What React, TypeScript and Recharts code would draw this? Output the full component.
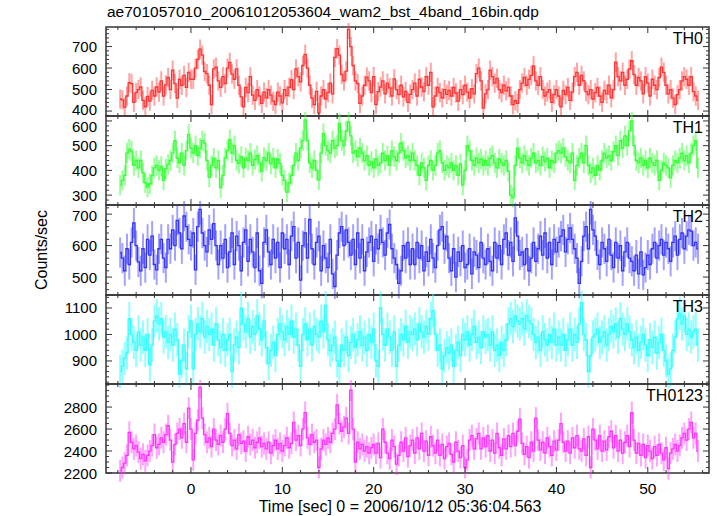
import { LineChart, Line, XAxis, YAxis, ErrorBar, ReferenceArea } from 'recharts';

// time bins: 0.25 s, first bin centre at -7.75 s
const T_START = -7.75;
const T_STEP = 0.25;

const TH0 = [
  456, 452, 418, 470, 532, 528, 440, 486, 500, 512, 450, 420, 468, 446, 496, 470,
  512, 488, 540, 470, 522, 556, 500, 590, 528, 460, 548, 520, 566, 510, 580, 548,
  548, 600, 640, 688, 660, 584, 574, 520, 430, 596, 604, 540, 510, 560, 528, 600,
  626, 572, 548, 596, 520, 466, 420, 510, 486, 560, 474, 450, 500, 470, 436, 488,
  462, 500, 474, 446, 430, 488, 470, 438, 500, 472, 510, 546, 500, 596, 560, 536,
  612, 664, 600, 520, 460, 430, 492, 392, 470, 500, 456, 486, 530, 480, 650, 690,
  660, 570, 540, 586, 780, 700, 612, 540, 528, 436, 470, 520, 558, 540, 486, 560,
  430, 490, 512, 540, 480, 530, 508, 470, 550, 500, 476, 520, 466, 492, 440, 478,
  500, 530, 470, 548, 512, 490, 560, 520, 580, 420, 470, 510, 486, 462, 500, 478,
  496, 470, 510, 484, 446, 500, 476, 520, 488, 460, 504, 480, 574, 600, 540, 414,
  480, 500, 590, 560, 530, 552, 500, 486, 520, 494, 510, 470, 430, 448, 436, 500,
  530, 556, 520, 548, 566, 610, 540, 520, 560, 500, 470, 488, 500, 440, 476, 500,
  470, 420, 496, 476, 510, 450, 488, 560, 580, 520, 566, 540, 490, 476, 500, 456,
  486, 510, 470, 440, 496, 480, 520, 462, 500, 628, 560, 540, 580, 520, 548, 596,
  634, 570, 520, 556, 540, 480, 560, 530, 470, 548, 520, 500, 556, 604, 580, 520,
  480, 500, 460, 430, 476, 500, 540, 560, 548, 520, 560, 490, 470, 450,
];

const TH1 = [
  340, 360, 380, 470, 486, 478, 420, 440, 410, 440, 390, 350, 332, 346, 380, 410,
  420, 400, 416, 360, 406, 424, 440, 470, 520, 450, 430, 470, 420, 480, 546, 490,
  470, 500, 460, 490, 520, 510, 440, 372, 420, 450, 410, 440, 330, 380, 450, 480,
  524, 470, 500, 440, 428, 456, 410, 450, 440, 470, 420, 444, 460, 430, 396, 452,
  440, 470, 426, 450, 410, 446, 428, 380, 360, 312, 350, 380, 420, 470, 440, 490,
  520, 604, 520, 430, 410, 440, 400, 362, 470, 550, 500, 480, 470, 520, 490, 500,
  590, 520, 500, 560, 596, 540, 470, 480, 456, 490, 470, 440, 460, 420, 436, 410,
  446, 420, 430, 470, 440, 460, 420, 480, 456, 440, 470, 510, 480, 450, 460, 440,
  470, 440, 420, 380, 430, 410, 360, 420, 440, 400, 420, 470, 480, 430, 400, 420,
  410, 430, 400, 420, 380, 426, 340, 400, 500, 480, 440, 420, 450, 430, 446, 420,
  440, 420, 450, 460, 430, 410, 446, 430, 420, 440, 396, 300, 290, 420, 490, 450,
  430, 460, 440, 420, 450, 470, 430, 440, 420, 456, 436, 450, 410, 440, 430, 470,
  480, 470, 490, 456, 440, 430, 470, 360, 420, 450, 470, 430, 500, 420, 390, 410,
  380, 420, 400, 440, 470, 450, 460, 440, 476, 500, 460, 520, 490, 540, 500, 560,
  600, 500, 440, 430, 450, 420, 440, 410, 450, 430, 420, 440, 360, 400, 430, 420,
  410, 370, 420, 440, 430, 450, 470, 440, 460, 430, 470, 500, 520, 410,
];

const TH2 = [
  578, 560, 520, 590, 540, 610, 672, 600, 548, 520, 590, 530, 620, 570, 630, 540,
  523, 590, 620, 560, 530, 620, 590, 650, 600, 680, 640, 590, 694, 660, 620, 600,
  640, 523, 660, 715, 640, 600, 580, 650, 620, 670, 600, 540, 600, 560, 620, 530,
  580, 640, 540, 630, 600, 520, 610, 650, 550, 620, 580, 530, 640, 520, 480, 610,
  650, 580, 540, 620, 560, 610, 530, 640, 590, 620, 540, 630, 660, 560, 610, 490,
  600, 640, 560, 683, 590, 540, 610, 630, 520, 600, 560, 530, 620, 510, 470, 570,
  640, 660, 600, 650, 610, 570, 620, 540, 640, 560, 620, 520, 580, 610, 630, 550,
  620, 590, 650, 610, 570, 640, 667, 590, 560, 540, 480, 520, 600, 560, 610, 540,
  590, 540, 610, 560, 600, 520, 580, 550, 620, 560, 530, 600, 650, 660, 590, 630,
  560, 520, 590, 500, 580, 550, 600, 530, 540, 590, 510, 580, 570, 530, 610, 560,
  540, 590, 550, 520, 610, 560, 600, 540, 620, 640, 570, 610, 550, 688, 630, 570,
  580, 540, 590, 520, 560, 610, 550, 590, 630, 570, 640, 560, 610, 540, 620, 580,
  610, 630, 650, 580, 620, 656, 620, 590, 560, 480, 550, 630, 660, 590, 715, 650,
  630, 570, 540, 610, 590, 550, 620, 570, 530, 610, 560, 600, 520, 580, 610, 560,
  550, 520, 570, 510, 580, 507, 530, 570, 540, 590, 610, 560, 600, 620, 570, 610,
  590, 550, 610, 630, 570, 620, 640, 590, 630, 650, 646, 600, 610, 590,
];

const TH3 = [
  860, 880, 910, 930, 1060, 1000, 970, 940, 1010, 960, 990, 940, 1000, 885, 960, 1050,
  1070, 1040, 1060, 990, 1010, 970, 1000, 960, 1020, 980, 850, 900, 960, 870, 1010, 1050,
  870, 1000, 1040, 1010, 1060, 990, 1030, 1000, 1020, 960, 1040, 980, 950, 1000, 940, 980,
  1000, 860, 960, 990, 950, 1098, 1040, 1010, 1060, 990, 1030, 1000, 1070, 1020, 980, 1050,
  950, 890, 940, 970, 920, 1000, 1040, 1010, 980, 1030, 1000, 1050, 990, 1020, 960, 880,
  1000, 1040, 980, 1020, 960, 1030, 1000, 990, 1050, 1010, 1110, 980, 940, 960, 990, 900,
  880, 960, 940, 990, 920, 970, 1000, 950, 980, 1010, 960, 990, 940, 1000, 970, 1020,
  900, 880, 1100, 1000, 960, 1020, 990, 940, 1010, 880, 960, 1000, 980, 1030, 970, 1010,
  1000, 1020, 980, 1040, 1010, 990, 1030, 1000, 1060, 1090, 1000, 940, 960, 870, 920, 950,
  930, 960, 880, 940, 970, 920, 1000, 980, 1010, 960, 1000, 1030, 970, 990, 950, 1010,
  990, 1000, 960, 1010, 940, 960, 920, 970, 940, 980, 1040, 1060, 1030, 1070, 1050, 1040,
  1060, 1020, 1070, 1050, 1040, 1000, 970, 990, 940, 1010, 980, 960, 1000, 970, 1020, 960,
  990, 960, 1000, 940, 980, 1020, 960, 1000, 970, 1040, 1120, 1000, 980, 860, 920, 990,
  1000, 1020, 970, 990, 1010, 960, 1000, 1030, 1010, 1040, 990, 1060, 1020, 1000, 1040, 1010,
  980, 950, 990, 940, 970, 1000, 960, 920, 980, 950, 990, 930, 970, 1000, 940, 900,
  850, 870, 940, 990, 1060, 1080, 1040, 1070, 1000, 1020, 990, 1010, 1020, 960,
];

const TH0123 = [
  2220, 2250, 2290, 2360, 2570, 2480, 2420, 2450, 2390, 2330, 2370, 2310, 2360, 2400, 2450, 2550,
  2430, 2460, 2520, 2480, 2550, 2630, 2500, 2300, 2460, 2560, 2600, 2520, 2650, 2480, 2790, 2600,
  2320, 2560, 2680, 2980, 2700, 2550, 2480, 2520, 2440, 2600, 2500, 2460, 2540, 2480, 2600, 2740,
  2560, 2450, 2500, 2420, 2550, 2470, 2490, 2400, 2530, 2460, 2500, 2430, 2480, 2520, 2440, 2470,
  2420, 2480, 2380, 2450, 2500, 2420, 2470, 2400, 2450, 2520, 2430, 2470, 2660, 2500, 2540, 2450,
  2600, 2750, 2520, 2460, 2550, 2480, 2500, 2250, 2420, 2500, 2460, 2520, 2480, 2560, 2600, 2820,
  2650, 2580, 2620, 2700, 2560, 2955, 2600, 2300, 2480, 2420, 2460, 2400, 2440, 2380, 2430, 2460,
  2380, 2470, 2340, 2600, 2480, 2380, 2330, 2500, 2440, 2280, 2360, 2480, 2400, 2520, 2350, 2450,
  2500, 2380, 2520, 2420, 2560, 2400, 2490, 2360, 2530, 2450, 2380, 2500, 2360, 2460, 2330, 2440,
  2470, 2370, 2300, 2480, 2400, 2340, 2450, 2250, 2320, 2500, 2540, 2420, 2510, 2560, 2420, 2520,
  2440, 2540, 2400, 2500, 2380, 2560, 2430, 2360, 2510, 2420, 2540, 2440, 2560, 2450, 2580, 2690,
  2470, 2370, 2440, 2340, 2480, 2400, 2700, 2500, 2410, 2480, 2380, 2520, 2440, 2360, 2490, 2410,
  2500, 2650, 2480, 2400, 2490, 2380, 2520, 2430, 2540, 2420, 2400, 2510, 2360, 2530, 2250, 2600,
  2500, 2420, 2540, 2400, 2490, 2410, 2530, 2580, 2430, 2540, 2400, 2500, 2380, 2480, 2540, 2440,
  2750, 2500, 2380, 2470, 2360, 2460, 2340, 2450, 2400, 2330, 2440, 2360, 2460, 2380, 2320, 2430,
  2240, 2380, 2420, 2460, 2400, 2450, 2520, 2560, 2500, 2600, 2660, 2520, 2560, 2400,
];

// 1-sigma errors per band (counts/sec)
const TH0_ERR = 45;
const TH1_ERR = 41;
const TH2_ERR = 48;
const TH3_ERR = 63;
const TH0123_ERR = 100;

const X_MAJOR = [0, 10, 20, 30, 40, 50];
const X_MINOR = [-8, -6, -4, -2, 0, 2, 4, 6, 8, 10, 12, 14, 16, 18, 20, 22, 24, 26, 28, 30,
  32, 34, 36, 38, 40, 42, 44, 46, 48, 50, 52, 54, 56];

const TH0_TICKS = [400, 500, 600, 700];
const TH1_TICKS = [300, 400, 500, 600];
const TH2_TICKS = [500, 600, 700];
const TH3_TICKS = [900, 1000, 1100];
const TH0123_TICKS = [2200, 2400, 2600, 2800];

const TITLE = 'ae701057010_20061012053604_wam2_bst_4band_16bin.qdp';
const X_LABEL = 'Time [sec] 0 = 2006/10/12 05:36:04.563';
const Y_LABEL = 'Counts/sec';

const W = 717;
const PLOT_L = 106;
const PLOT_R = 709;
const PAD = 4;
const X_DOMAIN: [number, number] = [-9.3, 56.7];
const FONT = '"Liberation Sans", Arial, Helvetica, sans-serif';
const AXIS = '#333';

const minorTicks = (lo: number, hi: number, step: number) => {
  const out: number[] = [];
  for (let v = Math.ceil(lo / step) * step; v <= hi; v += step) out.push(v);
  return out;
};

const PANELS = [
  { name: 'TH0', values: TH0, err: TH0_ERR, color: '#ff3333', errColor: 'rgba(255,51,51,0.45)', domain: [377, 791], major: TH0_TICKS, step: 20, top: 27, height: 89 },
  { name: 'TH1', values: TH1, err: TH1_ERR, color: '#33ff33', errColor: 'rgba(51,255,51,0.5)', domain: [260, 620], major: TH1_TICKS, step: 20, top: 116, height: 89 },
  { name: 'TH2', values: TH2, err: TH2_ERR, color: '#3333ff', errColor: 'rgba(51,51,255,0.45)', domain: [443, 729], major: TH2_TICKS, step: 20, top: 205, height: 90 },
  { name: 'TH3', values: TH3, err: TH3_ERR, color: '#33ffff', errColor: 'rgba(51,255,255,0.55)', domain: [813, 1149], major: TH3_TICKS, step: 20, top: 295, height: 89 },
  { name: 'TH0123', values: TH0123, err: TH0123_ERR, color: '#ff33ff', errColor: 'rgba(255,51,255,0.45)', domain: [2200, 3010], major: TH0123_TICKS, step: 50, top: 384, height: 89 },
];

type PanelCfg = (typeof PANELS)[number];

function Panel({ cfg, showX }: { cfg: PanelCfg; showX: boolean }) {
  const data = cfg.values.map((v, i) => ({ t: T_START + i * T_STEP, v, e: cfg.err }));
  const h = cfg.height;
  const extra = showX ? 30 : 0;

  // ticks point inward, drawn on both sides of the frame
  const xTick = (props: any) => {
    const { x, payload } = props;
    const major = X_MAJOR.includes(payload.value);
    const len = major ? 6 : 3;
    return (
      <g>
        <line x1={x} x2={x} y1={PAD + h} y2={PAD + h - len} stroke={AXIS} />
        <line x1={x} x2={x} y1={PAD} y2={PAD + len} stroke={AXIS} />
        {showX && major && (
          <text x={x} y={PAD + h + 15} textAnchor="middle" dominantBaseline="central"
            fontSize={15.5} fontFamily={FONT} fill="#000">{payload.value}</text>
        )}
      </g>
    );
  };

  const yTick = (props: any) => {
    const { y, payload } = props;
    const major = cfg.major.includes(payload.value);
    const len = major ? 6 : 3;
    // nudge labels at a shared panel edge so they don't sit on the neighbour's label
    let ly = Math.max(y, PAD + 10);
    if (!showX) ly = Math.min(ly, PAD + h - 7);
    return (
      <g>
        <line x1={PLOT_L} x2={PLOT_L + len} y1={y} y2={y} stroke={AXIS} />
        <line x1={PLOT_R} x2={PLOT_R - len} y1={y} y2={y} stroke={AXIS} />
        {major && (
          <text x={PLOT_L - 9} y={ly} textAnchor="end" dominantBaseline="central"
            fontSize={15} fontFamily={FONT} fill="#000">{payload.value}</text>
        )}
      </g>
    );
  };

  return (
    <div style={{ position: 'absolute', left: 0, top: cfg.top - PAD }}>
      <LineChart width={W} height={h + 2 * PAD + extra} data={data}
        margin={{ top: PAD, right: W - PLOT_R, bottom: PAD + extra - 1, left: PLOT_L - 1 }}>
        <XAxis dataKey="t" type="number" domain={X_DOMAIN} ticks={X_MINOR} interval={0}
          height={1} tickLine={false} axisLine={false} tick={xTick} allowDataOverflow />
        <YAxis type="number" domain={cfg.domain} ticks={minorTicks(cfg.domain[0], cfg.domain[1], cfg.step)}
          interval={0} width={1} tickLine={false} axisLine={false} tick={yTick} allowDataOverflow />
        <Line dataKey="v" type="step" stroke={cfg.color} strokeWidth={1.3} dot={false}
          activeDot={false} isAnimationActive={false}>
          <ErrorBar dataKey="e" direction="y" width={0} stroke={cfg.errColor} strokeWidth={2} />
        </Line>
        <ReferenceArea x1={X_DOMAIN[0]} x2={X_DOMAIN[1]} y1={cfg.domain[0]} y2={cfg.domain[1]}
          fill="none" stroke={AXIS} strokeWidth={1.5} ifOverflow="visible" />
      </LineChart>
      <div style={{ position: 'absolute', right: W - 703, top: PAD + 3, fontFamily: FONT, fontSize: 16, color: '#000' }}>
        {cfg.name}
      </div>
    </div>
  );
}

export default function App() {
  return (
    <div style={{ position: 'absolute', left: 0, top: 0, width: W, height: 516, background: '#fff', overflow: 'hidden' }}>
      <div style={{ position: 'absolute', left: 107, top: 3, fontFamily: FONT, fontSize: 15.5, color: '#000', whiteSpace: 'nowrap' }}>
        {TITLE}
      </div>
      {PANELS.map((p, i) => (
        <Panel key={p.name} cfg={p} showX={i === PANELS.length - 1} />
      ))}
      <div style={{ position: 'absolute', left: 42, top: 250, transform: 'translate(-50%, -50%) rotate(-90deg)',
        fontFamily: FONT, fontSize: 16, color: '#000', whiteSpace: 'nowrap' }}>
        {Y_LABEL}
      </div>
      <div style={{ position: 'absolute', left: 400, top: 507, transform: 'translate(-50%, -50%)',
        fontFamily: FONT, fontSize: 16, color: '#000', whiteSpace: 'nowrap' }}>
        {X_LABEL}
      </div>
    </div>
  );
}
